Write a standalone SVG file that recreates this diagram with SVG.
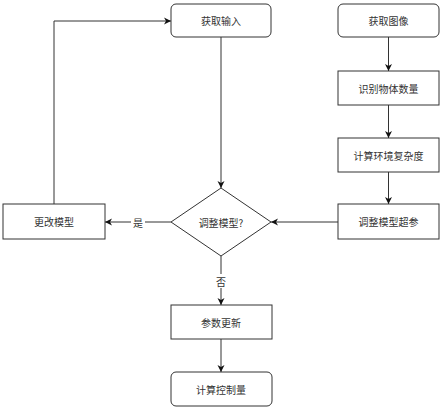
<svg xmlns="http://www.w3.org/2000/svg" width="443" height="410" viewBox="0 0 443 410">
<style>
.n{fill:#fff;stroke:#333;stroke-width:1}
.t{font-family:"Noto Sans CJK SC","Liberation Sans",sans-serif;font-size:10px;fill:#333;text-anchor:middle;dominant-baseline:central}
.c{fill:none;stroke:#333;stroke-width:1}
.l{font-family:"Noto Sans CJK SC","Liberation Sans",sans-serif;font-size:10px;fill:#333;text-anchor:middle;dominant-baseline:central}
</style>
<defs>
<marker id="a" markerWidth="8" markerHeight="8" refX="7" refY="4" orient="auto" markerUnits="userSpaceOnUse">
<path d="M0,0.5 L7,4 L0,7.5 L2,4 Z" fill="#111"/>
</marker>
</defs>
<rect width="443" height="410" fill="#fff"/>
<g id="connectors">
<path class="c" d="M54,204 V21 H171" marker-end="url(#a)"/>
<path class="c" d="M221,37 V188" marker-end="url(#a)"/>
<path class="c" d="M388.5,37 V71" marker-end="url(#a)"/>
<path class="c" d="M388.5,105 V138" marker-end="url(#a)"/>
<path class="c" d="M388.5,172 V204" marker-end="url(#a)"/>
<path class="c" d="M338,222 H271" marker-end="url(#a)"/>
<path class="c" d="M171,222 H105" marker-end="url(#a)"/>
<path class="c" d="M221,256 V305" marker-end="url(#a)"/>
<path class="c" d="M221,339 V372" marker-end="url(#a)"/>
<rect x="131" y="215" width="14" height="14" fill="#fff"/>
<text class="l" x="138" y="222">是</text>
<rect x="214" y="274" width="14" height="14" fill="#fff"/>
<text class="l" x="221" y="281">否</text>
</g>
<g id="n1"><rect class="n" x="171" y="4" width="100" height="33" rx="5"/><text class="t" x="221" y="20.5">获取输入</text></g>
<g id="n2"><rect class="n" x="338" y="4" width="101" height="33" rx="5"/><text class="t" x="388.5" y="20.5">获取图像</text></g>
<g id="n3"><rect class="n" x="338" y="71" width="101" height="34"/><text class="t" x="388.5" y="88">识别物体数量</text></g>
<g id="n4"><rect class="n" x="338" y="138" width="101" height="34"/><text class="t" x="388.5" y="155">计算环境复杂度</text></g>
<g id="n5"><rect class="n" x="338" y="204" width="101" height="35"/><text class="t" x="388.5" y="221.5">调整模型超参</text></g>
<g id="n6"><path class="n" d="M221,188 L271,222 L221,256 L171,222 Z"/><text class="t" x="221" y="222">调整模型?</text></g>
<g id="n7"><rect class="n" x="3" y="204" width="102" height="35"/><text class="t" x="54" y="221.5">更改模型</text></g>
<g id="n8"><rect class="n" x="171" y="305" width="101" height="34"/><text class="t" x="221" y="322">参数更新</text></g>
<g id="n9"><rect class="n" x="171" y="372" width="101" height="34" rx="5"/><text class="t" x="221" y="389">计算控制量</text></g>
</svg>
